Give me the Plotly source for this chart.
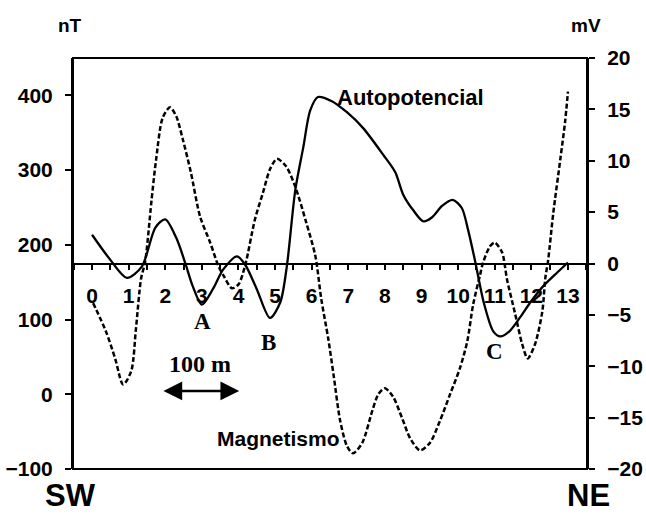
import plotly.graph_objects as go

# Autopotencial (mV, right axis)
auto_x = [0.0, 0.49, 0.95, 1.36, 1.73, 2.0, 2.3, 2.55, 2.75, 3.0, 3.3, 3.58, 3.96, 4.18, 4.5, 4.86,
          5.14, 5.32, 5.55, 5.77, 5.96, 6.17, 6.55, 6.97, 7.4, 7.95, 8.28, 8.5, 8.77, 9.05, 9.29,
          9.56, 9.85, 10.1, 10.27, 10.46, 10.7, 10.96, 11.15, 11.4, 11.7, 11.97, 12.3, 12.7, 13.0]
auto_mv = [2.8, 0.4, -1.4, -0.3, 3.5, 4.3, 2.5, 0.0, -2.2, -4.0, -2.5, -0.6, 0.7, -0.1, -2.5, -5.3,
           -3.8, -0.3, 7.1, 11.3, 14.9, 16.2, 15.8, 14.7, 13.2, 10.6, 8.9, 6.7, 5.2, 4.1, 4.5,
           5.6, 6.2, 5.4, 3.3, 0.3, -3.8, -6.6, -7.1, -6.6, -5.2, -3.8, -2.3, -0.9, 0.1]

# Magnetismo (nT, left axis)
mag_x = [0.03, 0.38, 0.63, 0.85, 1.07, 1.2, 1.34, 1.45, 1.62, 1.75, 1.93, 2.13, 2.3, 2.48, 2.7,
         2.95, 3.22, 3.45, 3.6, 3.82, 4.0, 4.18, 4.45, 4.67, 4.86, 5.05, 5.3, 5.55, 5.85, 6.1,
         6.26, 6.45, 6.6, 6.78, 6.97, 7.13, 7.38, 7.65, 7.82, 8.0, 8.22, 8.47, 8.69, 8.96, 9.23,
         9.5, 9.78, 10.05, 10.25, 10.41, 10.6, 10.68, 10.87, 11.0, 11.2, 11.28, 11.33, 11.56,
         11.75, 11.9, 12.1, 12.3, 12.38, 12.46, 12.6, 12.79, 12.92, 13.0]
mag_nt = [122, 84, 48, 13, 31, 88, 155, 177, 257, 314, 370, 384, 372, 341, 297,
          238, 204, 172, 158, 142, 147, 172, 234, 270, 301, 315, 305, 278, 230, 185,
          128, 75, 25, -36, -70, -79, -65, -23, 0, 8, -3, -32, -59, -75, -65,
          -36, 0, 35, 71, 120, 160, 176, 198, 203, 190, 171, 155, 107,
          67, 48, 67, 111, 155, 180, 243, 314, 364, 405]

x_ticks = list(range(0, 14))
nt_ticks = [-100, 0, 100, 200, 300, 400]
mv_ticks = [-20, -15, -10, -5, 0, 5, 10, 15, 20]

SANS = "Liberation Sans, Arial, sans-serif"
SERIF = "Liberation Serif, Times New Roman, serif"
tickfont = dict(family=SANS, size=21, color="black", weight="bold")

fig = go.Figure()
fig.add_trace(go.Scatter(x=mag_x, y=mag_nt, mode="lines", yaxis="y",
                         line=dict(color="black", width=2.5, dash="5px,2.5px", shape="spline", smoothing=0.8),
                         showlegend=False, hoverinfo="skip"))
fig.add_trace(go.Scatter(x=auto_x, y=auto_mv, mode="lines", yaxis="y2",
                         line=dict(color="black", width=2.3, shape="spline", smoothing=0.8),
                         showlegend=False, hoverinfo="skip"))

fig.update_layout(
    width=646, height=515,
    margin=dict(l=73, r=59, t=58, b=46, autoexpand=False),
    paper_bgcolor="white", plot_bgcolor="white",
    showlegend=False,
    xaxis=dict(range=[-0.52, 13.52], anchor="free", position=0.5, automargin=False,
               tickvals=x_ticks, ticktext=[str(v) for v in x_ticks],
               ticks="outside", ticklen=5, tickwidth=1.5, tickcolor="black",
               minor=dict(dtick=0.5, tick0=0, ticks="outside", ticklen=5, tickwidth=1.5, tickcolor="black"),
               showline=True, linecolor="black", linewidth=2, showgrid=False, zeroline=False,
               tickfont=tickfont, ticklabelstandoff=8),
    yaxis=dict(range=[-100, 450], tickvals=nt_ticks, ticks="outside", ticklen=6, tickwidth=1.5,
               tickcolor="black", showline=True, linecolor="black", linewidth=2, automargin=False,
               showgrid=False, zeroline=False, tickfont=tickfont, ticklabelstandoff=8),
    yaxis2=dict(range=[-20, 20], tickvals=mv_ticks, overlaying="y", side="right", anchor="x",
                ticks="outside", ticklen=6, tickwidth=1.5, tickcolor="black", automargin=False,
                showline=True, linecolor="black", linewidth=2,
                showgrid=False, zeroline=False, tickfont=tickfont, ticklabelstandoff=8),
    yaxis3=dict(range=[-100, 450], tickvals=nt_ticks, overlaying="y", side="left", anchor="x",
                ticks="inside", ticklen=7, tickwidth=1.5, tickcolor="black", automargin=False,
                showticklabels=False, showline=False, showgrid=False, zeroline=False),
    yaxis4=dict(range=[-20, 20], tickvals=mv_ticks, overlaying="y", side="right", anchor="x",
                ticks="inside", ticklen=7, tickwidth=1.5, tickcolor="black", automargin=False,
                showticklabels=False, showline=False, showgrid=False, zeroline=False),
)

fig.add_shape(type="rect", xref="paper", yref="paper", x0=0, x1=1, y0=0, y1=1,
              line=dict(color="black", width=2), layer="above")

def txt(x, y, s, size, family=SANS, xref="paper", yref="paper", yanchor="middle"):
    fig.add_annotation(x=x, y=y, xref=xref, yref=yref, text=s, showarrow=False,
                       xanchor="center", yanchor=yanchor,
                       font=dict(family=family, size=size, color="black", weight="bold"))

txt(-0.006, 1.080, "nT", 19)
txt(0.998, 1.080, "mV", 19)
txt(-0.004, -0.111, "SW", 31, yanchor="bottom")
txt(1.002, -0.111, "NE", 31, yanchor="bottom")
txt(8.69, 16.2, "Autopotencial", 22, xref="x", yref="y2")
txt(5.08, -59, "Magnetismo", 21, xref="x", yref="y")
txt(3.03, -5.6, "A", 23, family=SERIF, xref="x", yref="y2")
txt(4.81, -7.7, "B", 23, family=SERIF, xref="x", yref="y2")
txt(11.0, -8.55, "C", 23, family=SERIF, xref="x", yref="y2")
txt(2.95, -9.8, "100 m", 24, family=SERIF, xref="x", yref="y2")

fig.add_annotation(x=4.02, y=-12.4, ax=1.91, ay=-12.4, xref="x", yref="y2", axref="x", ayref="y2",
                   showarrow=True, arrowhead=2, arrowside="end+start", arrowsize=1.5,
                   arrowwidth=2.5, arrowcolor="black", text="")

fig.write_html("out.html", config={"displayModeBar": False},
               post_script="document.body.style.margin='0';document.body.style.overflow='hidden';")
